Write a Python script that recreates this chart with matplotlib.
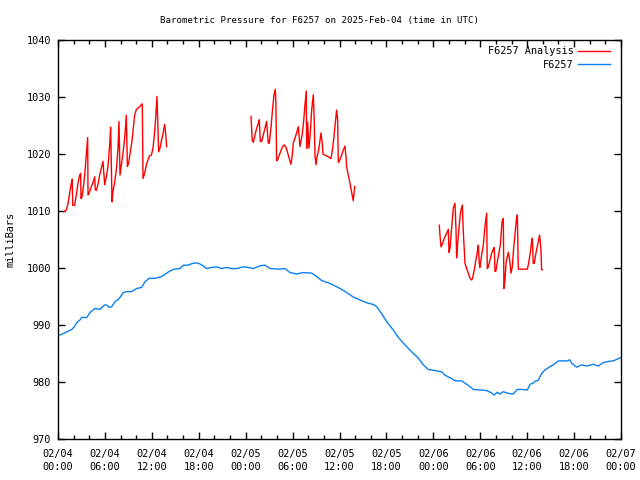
from datetime import datetime, timedelta

import matplotlib
matplotlib.use("Agg")
import matplotlib.pyplot as plt
import matplotlib.dates as mdates

START = datetime(2025, 2, 4)

# Analysis series (hours since 02/04 00:00, millibars), three separate runs
analysis_hours_1 = [0.77, 1.07, 1.28, 1.49, 1.71, 1.83, 1.88, 2.13, 2.34, 2.56, 2.77, 2.90,
                    2.94, 3.07, 3.28, 3.41, 3.62, 3.79, 3.84, 4.05, 4.26, 4.48, 4.69, 4.77,
                    4.90, 5.12, 5.33, 5.54, 5.75, 5.97, 6.18, 6.39, 6.61, 6.73, 6.91, 7.03,
                    7.25, 7.46, 7.67, 7.80, 7.93, 8.10, 8.31, 8.53, 8.74, 8.87, 9.04, 9.21,
                    9.46, 9.63, 9.80, 10.02, 10.44, 10.78, 10.87, 11.08, 11.30, 11.51, 11.72,
                    11.94, 12.15, 12.36, 12.49, 12.66, 12.87, 13.04, 13.21, 13.43, 13.64,
                    13.77, 13.90]
analysis_mb_1 = [1009.9, 1010.2, 1011.3, 1013.1, 1014.9, 1015.6, 1011.0, 1011.0, 1012.8, 1014.9,
                 1016.3, 1016.6, 1012.2, 1012.5, 1014.6, 1016.3, 1019.8, 1022.9, 1012.8, 1013.4,
                 1014.3, 1015.0, 1016.0, 1013.7, 1013.6, 1014.7, 1016.3, 1017.5, 1018.7, 1014.6,
                 1016.0, 1017.8, 1021.6, 1024.7, 1011.6, 1013.4, 1015.1, 1017.2, 1021.0, 1025.7,
                 1016.3, 1018.1, 1020.1, 1022.8, 1026.8, 1017.8, 1018.4, 1020.1, 1022.2, 1024.5,
                 1026.8, 1027.8, 1028.3, 1028.8, 1015.7, 1016.6, 1018.1, 1019.0, 1019.7, 1019.8,
                 1021.0, 1023.9, 1026.3, 1030.1, 1020.4, 1021.0, 1022.2, 1023.6, 1025.2, 1023.6,
                 1021.3]

analysis_hours_2 = [24.68, 24.76, 24.85, 24.98, 25.19, 25.40, 25.62, 25.74, 25.87, 26.04, 26.25,
                    26.47, 26.68, 26.89, 27.02, 27.23, 27.41, 27.62, 27.79, 27.87, 27.96, 28.09,
                    28.30, 28.51, 28.73, 28.94, 29.15, 29.37, 29.58, 29.79, 29.96, 30.09, 30.30,
                    30.52, 30.73, 30.86, 30.94, 31.07, 31.24, 31.41, 31.58, 31.75, 31.80, 31.92,
                    32.09, 32.27, 32.44, 32.65, 32.78, 32.86, 32.99, 33.12, 33.29, 33.46, 33.63,
                    33.80, 33.89, 34.14, 34.57, 34.91, 35.12, 35.29, 35.46, 35.63, 35.76, 35.85,
                    36.06, 36.27, 36.49, 36.70, 36.83, 36.91, 37.12, 37.34, 37.55, 37.76, 37.85,
                    37.94]
analysis_mb_2 = [1026.6, 1024.5, 1022.3, 1022.05, 1023.3, 1024.5, 1025.4, 1026.0, 1022.2, 1022.2,
                 1023.3, 1024.5, 1025.7, 1021.9, 1021.9, 1024.5, 1027.4, 1030.4, 1031.35, 1028.7,
                 1018.8, 1019.0, 1019.8, 1020.6, 1021.3, 1021.6, 1021.2, 1020.2, 1019.2, 1018.2,
                 1019.8, 1021.9, 1022.75, 1023.7, 1024.8, 1022.75, 1021.3, 1022.2, 1023.5, 1025.7,
                 1028.6, 1031.05, 1021.0, 1025.6, 1021.0, 1023.9, 1027.7, 1030.4, 1025.2, 1019.8,
                 1018.1, 1019.5, 1020.4, 1021.9, 1023.7, 1021.9, 1020.0, 1019.8, 1019.5, 1019.2,
                 1021.0, 1023.0, 1025.4, 1027.7, 1026.0, 1018.5, 1019.0, 1019.8, 1020.7, 1021.4,
                 1019.5, 1017.8, 1016.3, 1014.9, 1013.3, 1011.8, 1013.1, 1014.3]

analysis_hours_3 = [48.76, 48.85, 48.98, 49.15, 49.40, 49.70, 49.92, 50.00, 50.13, 50.34, 50.55,
                    50.77, 50.90, 50.98, 51.11, 51.28, 51.49, 51.71, 51.83, 52.05, 52.26, 52.47,
                    52.69, 52.90, 53.03, 53.24, 53.45, 53.67, 53.75, 53.88, 53.96, 54.18, 54.39,
                    54.60, 54.82, 54.90, 55.03, 55.24, 55.46, 55.67, 55.80, 55.88, 56.01, 56.22,
                    56.44, 56.61, 56.78, 56.95, 57.03, 57.16, 57.29, 57.46, 57.59, 57.76, 57.93,
                    58.10, 58.27, 58.44, 58.61, 58.74, 58.87, 59.29, 59.72, 60.02, 60.14, 60.36,
                    60.57, 60.66, 60.78, 60.91, 61.08, 61.25, 61.42, 61.59, 61.76, 61.85, 61.94]
analysis_mb_3 = [1007.5, 1005.8, 1003.7, 1004.2, 1005.2, 1006.1, 1006.8, 1002.75, 1003.5, 1007.0,
                 1010.5, 1011.35, 1006.7, 1001.8, 1004.3, 1007.0, 1009.9, 1011.05, 1006.4, 1000.8,
                 999.9, 999.1, 998.2, 997.9, 998.3, 999.7, 1001.4, 1003.2, 1004.0, 1000.8, 1000.1,
                 1002.3, 1004.0, 1007.3, 1009.6, 999.9, 1000.2, 1001.4, 1002.6, 1003.3, 1003.6,
                 999.4, 999.5, 1001.4, 1003.0, 1004.6, 1008.1, 1008.7, 996.4, 997.9, 1000.8,
                 1002.0, 1002.75, 1001.4, 999.1, 1000.2, 1003.5, 1005.8, 1008.4, 1009.3, 999.8,
                 999.8, 999.8, 999.8, 1000.5, 1002.3, 1004.6, 1005.2, 1000.8, 1000.8, 1002.3,
                 1003.5, 1004.6, 1005.8, 1003.2, 999.7, 999.7]

# Station observations
station_hours = [0.0, 0.26, 0.69, 1.11, 1.75, 2.09, 2.39, 2.82, 3.03, 3.67, 4.10, 4.74, 5.37,
                 5.93, 6.23, 6.52, 6.87, 7.29, 7.80, 8.36, 8.78, 9.42, 10.06, 10.70, 11.13,
                 11.68, 12.41, 13.26, 13.90, 14.33, 14.88, 15.60, 16.03, 16.67, 17.18, 17.74,
                 18.16, 18.59, 19.01, 19.65, 20.29, 20.93, 21.57, 22.21, 22.85, 23.70, 24.34,
                 24.98, 25.84, 26.48, 27.12, 28.18, 29.03, 29.67, 30.52, 31.38, 32.44, 33.08,
                 33.72, 34.57, 35.21, 36.07, 36.92, 37.77, 38.62, 39.48, 40.33, 40.76, 41.39,
                 42.03, 42.89, 43.53, 44.38, 45.23, 46.08, 46.72, 47.36, 48.21, 49.06, 49.49,
                 50.34, 50.77, 51.62, 52.05, 52.68, 53.11, 53.96, 54.81, 55.45, 55.75, 56.18,
                 56.52, 56.95, 57.59, 58.23, 58.74, 59.29, 60.02, 60.36, 60.78, 61.00, 61.42,
                 61.85, 62.27, 62.91, 63.34, 63.98, 64.62, 65.13, 65.47, 65.69, 66.33, 66.96,
                 67.60, 68.46, 69.09, 69.73, 70.37, 71.01, 72.0]
station_mb = [988.2, 988.25, 988.5, 988.8, 989.2, 989.7, 990.4, 990.9, 991.35, 991.3, 992.2,
              992.9, 992.75, 993.5, 993.5, 993.1, 993.2, 994.1, 994.6, 995.7, 995.85, 995.85,
              996.4, 996.6, 997.6, 998.2, 998.2, 998.5, 999.1, 999.5, 999.8, 999.9, 1000.5,
              1000.5, 1000.8, 1000.9, 1000.7, 1000.35, 999.9, 1000.1, 1000.2, 999.9, 1000.1,
              999.9, 999.9, 1000.2, 1000.1, 999.9, 1000.4, 1000.5, 999.9, 999.8, 999.9, 999.2,
              998.95, 999.2, 999.1, 998.5, 997.8, 997.4, 997.0, 996.4, 995.7, 994.9, 994.4,
              993.9, 993.6, 993.2, 992.0, 990.6, 989.1, 987.8, 986.5, 985.3, 984.2, 983.0,
              982.2, 982.0, 981.8, 981.2, 980.6, 980.2, 980.2, 979.8, 979.2, 978.7, 978.6,
              978.5, 978.1, 977.7, 978.2, 977.9, 978.3, 978.0, 977.9, 978.7, 978.7, 978.6,
              979.6, 979.8, 980.1, 980.3, 981.5, 982.1, 982.7, 983.0, 983.7, 983.7, 983.7,
              983.9, 983.3, 982.6, 983.0, 982.8, 983.1, 982.8, 983.4, 983.6, 983.7, 984.3]


def to_times(hours):
    return [START + timedelta(hours=h) for h in hours]


plt.rcParams["font.family"] = "DejaVu Sans Mono"
plt.rcParams["font.size"] = 7.4

fig = plt.figure(figsize=(6.4, 4.8), dpi=100)
ax = fig.add_axes([58 / 640, 41 / 480, 563 / 640, 399 / 480])

red = "#ff0000"
blue = "#0a80f0"
ax.plot(to_times(analysis_hours_1), analysis_mb_1, color=red, lw=1.0, label="F6257 Analysis")
ax.plot(to_times(analysis_hours_2), analysis_mb_2, color=red, lw=1.0)
ax.plot(to_times(analysis_hours_3), analysis_mb_3, color=red, lw=1.0)
ax.plot(to_times(station_hours), station_mb, color=blue, lw=1.0, label="F6257")

ax.set_xlim(START, START + timedelta(hours=72))
ax.set_ylim(970, 1040)
ax.set_yticks(range(970, 1041, 10))

ax.xaxis.set_major_locator(mdates.HourLocator(byhour=[0, 6, 12, 18]))
ax.xaxis.set_minor_locator(mdates.HourLocator(byhour=range(0, 24, 2)))
ax.xaxis.set_major_formatter(mdates.DateFormatter("%m/%d\n%H:%M"))

ax.tick_params(which="both", direction="in", top=True, right=True, color="black")
ax.tick_params(which="major", length=5, width=1, pad=7)
ax.tick_params(which="minor", length=3, width=1)
ax.tick_params(axis="y", pad=5)
for s in ax.spines.values():
    s.set_linewidth(1.0)

# title is centred on the whole figure, not on the axes
fig.text(0.5, 1 - 20 / 480, "Barometric Pressure for F6257 on 2025-Feb-04 (time in UTC)",
         fontsize=6.6, ha="center", va="center")
ax.set_ylabel("milliBars")
ax.yaxis.set_label_coords(-42 / 563, 0.5)

ax.legend(loc="upper right", bbox_to_anchor=(1 - 7 / 563, 1 - 2 / 399), frameon=False,
          markerfirst=False, handlelength=3.1, borderaxespad=0, labelspacing=0.35,
          handletextpad=0.4)

fig.canvas.draw()
for lbl in ax.get_xticklabels():
    lbl.set_linespacing(1.45)

fig.savefig("out.png", dpi=100)
